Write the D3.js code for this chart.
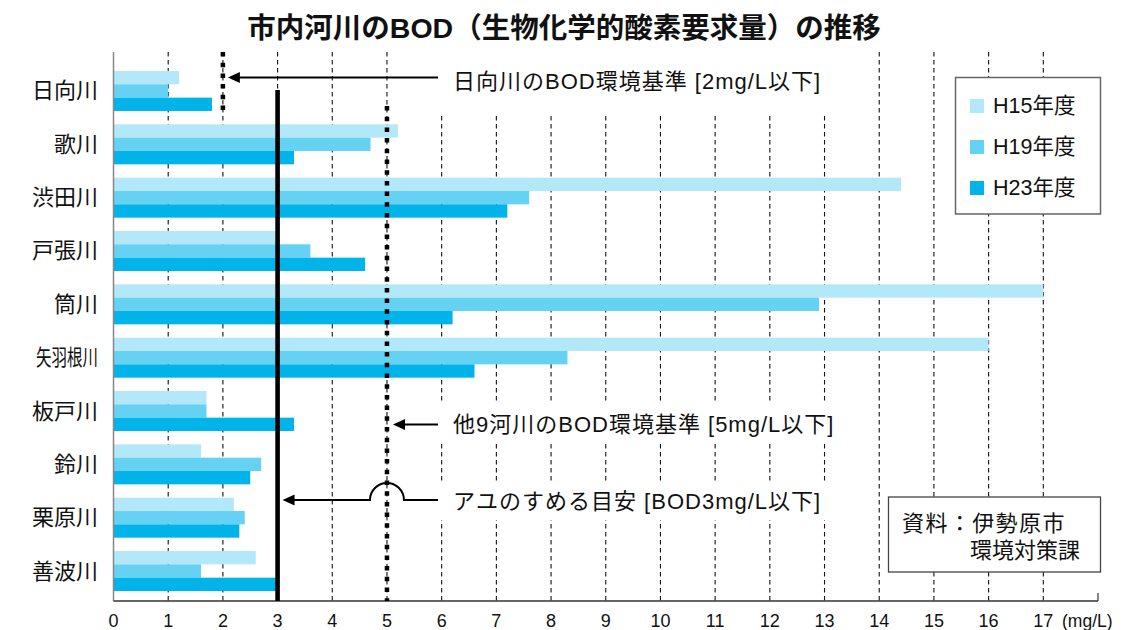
<!DOCTYPE html>
<html>
<head>
<meta charset="utf-8">
<script src="https://cdn.jsdelivr.net/npm/d3@7"></script>
<style>
  html, body { margin: 0; padding: 0; background: #fff; }
  svg { display: block; }
  text { font-family: "Liberation Sans", "Noto Sans CJK JP", sans-serif; fill: #111; }
</style>
</head>
<body>
<script>
// River names (top to bottom) and BOD values in mg/L per survey year
const categories = ["日向川", "歌川", "渋田川", "戸張川", "筒川", "矢羽根川", "板戸川", "鈴川", "栗原川", "善波川"];
const seriesNames = ["H15年度", "H19年度", "H23年度"];
const h15 = [1.2, 5.2, 14.4, 3.0, 17.0, 16.0, 1.7, 1.6, 2.2, 2.6];
const h19 = [1.0, 4.7, 7.6, 3.6, 12.9, 8.3, 1.7, 2.7, 2.4, 1.6];
const h23 = [1.8, 3.3, 7.2, 4.6, 6.2, 6.6, 3.3, 2.5, 2.3, 3.0];
const tickValues = [0, 1, 2, 3, 4, 5, 6, 7, 8, 9, 10, 11, 12, 13, 14, 15, 16, 17];
const colors = ["#b3e8f9", "#66d2f3", "#00b4ea"];

// Reference levels (mg/L)
const hinataStd = 2;   // 日向川の環境基準
const ayuLevel = 3;    // アユのすめる目安
const otherStd = 5;    // 他9河川の環境基準

const W = 1126, H = 630;
const plotTop = 52, plotBottom = 601;

const svg = d3.select("body").append("svg")
  .attr("width", W).attr("height", H);
svg.append("rect").attr("width", W).attr("height", H).attr("fill", "#fff");

const x = d3.scaleLinear().domain([0, 18]).range([113.5, 1098]);
const y = d3.scaleBand().domain(categories)
  .range([64.3, 597.7]).paddingInner(0.25).paddingOuter(0.125);
const ySub = d3.scaleBand().domain(seriesNames).range([0, y.bandwidth()]);

// Title
svg.append("text")
  .attr("x", 564).attr("y", 28)
  .attr("text-anchor", "middle").attr("dominant-baseline", "central")
  .attr("font-size", 28.5).attr("font-weight", "bold")
  .text("市内河川のBOD（生物化学的酸素要求量）の推移");

// Dashed vertical grid lines
svg.append("g").selectAll("line")
  .data(tickValues.filter(d => d > 0))
  .join("line")
  .attr("x1", d => x(d)).attr("x2", d => x(d))
  .attr("y1", plotTop).attr("y2", plotBottom)
  .attr("stroke", "#111").attr("stroke-width", 1.1)
  .attr("stroke-dasharray", "4.5,3.5");

// White panels behind the annotation texts
const panels = [
  { y0: 46, y1: 113 },
  { y0: 403, y1: 443 },
  { y0: 482, y1: 520 }
];
svg.append("g").selectAll("rect")
  .data(panels).join("rect")
  .attr("x", 440).attr("width", 400)
  .attr("y", d => d.y0).attr("height", d => d.y1 - d.y0)
  .attr("fill", "#fff");

// Bars
const rows = categories.map((c, i) => ({ cat: c, vals: [h15[i], h19[i], h23[i]] }));
const groups = svg.append("g").selectAll("g")
  .data(rows).join("g")
  .attr("transform", d => `translate(0,${y(d.cat)})`);
groups.selectAll("rect")
  .data(d => d.vals.map((v, k) => ({ v, k })))
  .join("rect")
  .attr("x", x(0))
  .attr("y", d => ySub(seriesNames[d.k]))
  .attr("width", d => x(d.v) - x(0))
  .attr("height", ySub.bandwidth())
  .attr("fill", d => colors[d.k]);

// Axes lines
svg.append("line")
  .attr("x1", x(0)).attr("x2", x(0)).attr("y1", plotTop).attr("y2", plotBottom)
  .attr("stroke", "#888").attr("stroke-width", 1.5);
svg.append("line")
  .attr("x1", x(0)).attr("x2", x(18)).attr("y1", plotBottom).attr("y2", plotBottom)
  .attr("stroke", "#333").attr("stroke-width", 1.5);
svg.append("line")
  .attr("x1", x(18)).attr("x2", x(18)).attr("y1", plotBottom - 8).attr("y2", plotBottom)
  .attr("stroke", "#333").attr("stroke-width", 1.2);

// Tick labels
svg.append("g").selectAll("text")
  .data(tickValues).join("text")
  .attr("x", d => x(d)).attr("y", 626.5)
  .attr("text-anchor", "middle")
  .attr("font-size", 18)
  .text(d => d);
svg.append("text")
  .attr("x", 1062).attr("y", 626.5)
  .attr("font-size", 17.5)
  .text("(mg/L)");

// Category labels (long names squeezed into the label column)
svg.append("g").selectAll("text")
  .data(categories).join("text")
  .attr("x", 98).attr("y", d => y(d) + y.bandwidth() / 2)
  .attr("text-anchor", "end").attr("dominant-baseline", "central")
  .attr("font-size", 22)
  .each(function (d) {
    if (d.length > 3) {
      d3.select(this).attr("textLength", 62).attr("lengthAdjust", "spacingAndGlyphs");
    }
  })
  .text(d => d);

// Reference lines
svg.append("line")
  .attr("x1", x(hinataStd)).attr("x2", x(hinataStd))
  .attr("y1", plotTop).attr("y2", 111)
  .attr("stroke", "#000").attr("stroke-width", 4.5)
  .attr("stroke-dasharray", "4.5,6.2");
svg.append("line")
  .attr("x1", x(otherStd)).attr("x2", x(otherStd))
  .attr("y1", 106).attr("y2", plotBottom)
  .attr("stroke", "#000").attr("stroke-width", 4.5)
  .attr("stroke-dasharray", "4.5,6.2");
svg.append("line")
  .attr("x1", x(ayuLevel)).attr("x2", x(ayuLevel))
  .attr("y1", 90).attr("y2", plotBottom)
  .attr("stroke", "#000").attr("stroke-width", 4.6);

// Arrows
function arrowHead(tipX, tipY) {
  svg.append("path")
    .attr("d", `M${tipX},${tipY} L${tipX + 12},${tipY - 5.5} L${tipX + 12},${tipY + 5.5} Z`)
    .attr("fill", "#000");
}
const tailX = 438;
const a1y = 77.5, a2y = 424.5, a3y = 500;
svg.append("line")
  .attr("x1", tailX).attr("x2", x(hinataStd) + 12).attr("y1", a1y).attr("y2", a1y)
  .attr("stroke", "#000").attr("stroke-width", 2);
arrowHead(x(hinataStd) + 5, a1y);

svg.append("line")
  .attr("x1", tailX).attr("x2", x(otherStd) + 12).attr("y1", a2y).attr("y2", a2y)
  .attr("stroke", "#000").attr("stroke-width", 2);
arrowHead(x(otherStd) + 6, a2y);

const r = 17;
svg.append("path")
  .attr("d", `M${tailX},${a3y} H${x(otherStd) + r} A${r},${r} 0 0 0 ${x(otherStd) - r},${a3y} H${x(ayuLevel) + 14}`)
  .attr("fill", "none").attr("stroke", "#000").attr("stroke-width", 2);
arrowHead(x(ayuLevel) + 5, a3y);

// Annotation texts
const notes = [
  { t: "日向川のBOD環境基準 [2mg/L以下]", y: a1y + 4 },
  { t: "他9河川のBOD環境基準 [5mg/L以下]", y: a2y },
  { t: "アユのすめる目安 [BOD3mg/L以下]", y: a3y + 1 }
];
svg.append("g").selectAll("text")
  .data(notes).join("text")
  .attr("x", 453).attr("y", d => d.y)
  .attr("dominant-baseline", "central")
  .attr("font-size", 22).attr("letter-spacing", 1)
  .text(d => d.t);

// Legend
const lg = svg.append("g");
lg.append("rect")
  .attr("x", 955.5).attr("y", 77.5).attr("width", 145).attr("height", 136.5)
  .attr("fill", "#fff").attr("stroke", "#666").attr("stroke-width", 1.5);
seriesNames.forEach((s, k) => {
  lg.append("rect")
    .attr("x", 970).attr("y", 99 + k * 41).attr("width", 14).attr("height", 14)
    .attr("fill", colors[k]);
  lg.append("text")
    .attr("x", 993).attr("y", 106 + k * 41)
    .attr("dominant-baseline", "central")
    .attr("font-size", 21.5)
    .text(s);
});

// Source note
const src = svg.append("g");
src.append("rect")
  .attr("x", 888.5).attr("y", 497).attr("width", 212).attr("height", 75)
  .attr("fill", "#fff").attr("stroke", "#444").attr("stroke-width", 1.3);
const srcText = src.append("text")
  .attr("font-size", 22);
srcText.append("tspan")
  .attr("x", 902).attr("y", 531)
  .attr("letter-spacing", 1.4)
  .text("資料：伊勢原市");
srcText.append("tspan")
  .attr("x", 970).attr("y", 558)
  .text("環境対策課");
</script>
</body>
</html>
